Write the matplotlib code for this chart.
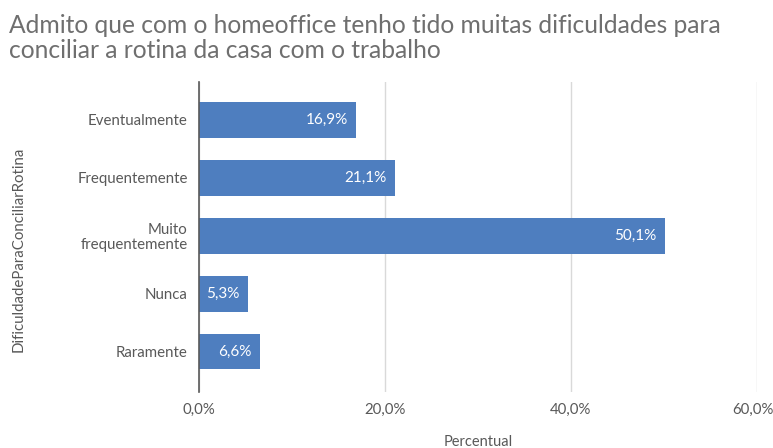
import numpy as np
import matplotlib.pyplot as plt
from matplotlib.transforms import ScaledTranslation

plt.rcParams['font.family'] = ['Lato', 'DejaVu Sans']

categorias = ["Eventualmente", "Frequentemente", "Muito\nfrequentemente", "Nunca", "Raramente"]
percentual = [16.9, 21.1, 50.1, 5.3, 6.6]
rotulos = ["16,9%", "21,1%", "50,1%", "5,3%", "6,6%"]
ticks_x = [0, 20, 40, 60]
ticks_x_rotulos = ["0,0%", "20,0%", "40,0%", "60,0%"]

cor_barra = "#4e7ebf"
cinza_texto = "#595959"

fig = plt.figure(figsize=(7.73, 4.48), dpi=100)
ax = fig.add_axes([0.2574, 0.125, 0.979 - 0.2574, 0.817 - 0.125])

y = np.arange(len(categorias))
ax.barh(y, percentual, height=0.62, color=cor_barra, zorder=3)

for yi, v, txt in zip(y, percentual, rotulos):
    ax.annotate(txt, (v, yi), xytext=(-6, 0), textcoords="offset points",
                ha="right", va="center", color="white", fontsize=11, zorder=4)

ax.set_xlim(0, 60)
ax.set_ylim(len(categorias) - 1 + 0.7, -0.655)
ax.set_yticks(y)
ax.set_yticklabels(categorias, fontsize=10.8, color=cinza_texto, linespacing=1.05)
ax.set_xticks(ticks_x)
ax.set_xticklabels(ticks_x_rotulos, fontsize=10.8, color=cinza_texto)
ax.tick_params(axis="both", length=0)
ax.tick_params(axis="x", pad=8)
ax.tick_params(axis="y", pad=8)

# o último rótulo encosta na borda direita: puxa uns pixels para dentro
ultimo = ax.get_xticklabels()[-1]
ultimo.set_transform(ultimo.get_transform() + ScaledTranslation(-0.035, 0, fig.dpi_scale_trans))

ax.grid(axis="x", color="#d9d9d9", linewidth=1, zorder=0)
for lado in ["top", "right", "bottom"]:
    ax.spines[lado].set_visible(False)
ax.spines["left"].set_color("#595959")
ax.spines["left"].set_linewidth(1.2)
ax.spines["left"].set_zorder(5)

ax.set_ylabel("DificuldadeParaConciliarRotina", fontsize=10.8, color=cinza_texto)
ax.yaxis.set_label_coords(-0.31, 0.46)
ax.set_xlabel("Percentual", fontsize=10.5, color=cinza_texto)
ax.xaxis.set_label_coords(0.5, -0.14)

fig.text(0.011, 0.968, "Admito que com o homeoffice tenho tido muitas dificuldades para\n"
         "conciliar a rotina da casa com o trabalho",
         ha="left", va="top", fontsize=17.7, color="#6f6f6f", linespacing=1.1)

fig.savefig("out.png", dpi=100)
